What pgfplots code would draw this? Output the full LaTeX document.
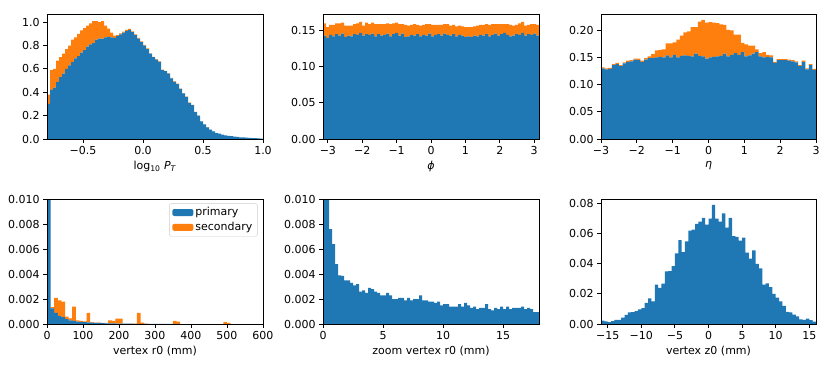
\documentclass[border=0pt]{standalone}
\usepackage{fontspec}
\setmainfont{DejaVu Sans}
\usepackage{pgfplots}
\usepackage{pgfplotstable}
\pgfplotsset{compat=1.18}

\definecolor{mblue}{HTML}{1F77B4}
\definecolor{morange}{HTML}{FF7F0E}

% log10 pT: bin centre, primary, secondary
\pgfplotstableread{
x p s
-0.7875 0.30 0.08
-0.7625 0.42 0.17
-0.7375 0.44 0.16
-0.7125 0.49 0.18
-0.6875 0.53 0.17
-0.6625 0.56 0.17
-0.6375 0.60 0.17
-0.6125 0.63 0.17
-0.5875 0.66 0.19
-0.5625 0.69 0.18
-0.5375 0.71 0.19
-0.5125 0.74 0.19
-0.4875 0.76 0.19
-0.4625 0.79 0.18
-0.4375 0.81 0.18
-0.4125 0.82 0.19
-0.3875 0.85 0.16
-0.3625 0.86 0.14
-0.3375 0.86 0.15
-0.3125 0.87 0.10
-0.2875 0.875 0.07
-0.2625 0.87 0.04
-0.2375 0.865 0.02
-0.2125 0.88 0.01
-0.1875 0.895 0.01
-0.1625 0.91 0.01
-0.1375 0.925 0.01
-0.1125 0.935 0.008
-0.0875 0.915 0.007
-0.0625 0.89 0.006
-0.0375 0.86 0.006
-0.0125 0.83 0.005
0.0125 0.80 0.005
0.0375 0.77 0.005
0.0625 0.73 0.004
0.0875 0.70 0.004
0.1125 0.68 0.004
0.1375 0.66 0.004
0.1625 0.59 0.003
0.1875 0.58 0.003
0.2125 0.56 0.003
0.2375 0.52 0.003
0.2625 0.49 0.003
0.2875 0.47 0.003
0.3125 0.43 0.002
0.3375 0.39 0.002
0.3625 0.36 0.002
0.3875 0.31 0.002
0.4125 0.29 0.002
0.4375 0.23 0.002
0.4625 0.20 0.001
0.4875 0.15 0.001
0.5125 0.125 0.001
0.5375 0.10 0.001
0.5625 0.08 0.001
0.5875 0.065 0.001
0.6125 0.05 0
0.6375 0.045 0
0.6625 0.037 0
0.6875 0.032 0
0.7125 0.027 0
0.7375 0.024 0
0.7625 0.020 0
0.7875 0.018 0
0.8125 0.015 0
0.8375 0.013 0
0.8625 0.011 0
0.8875 0.010 0
0.9125 0.008 0
0.9375 0.007 0
0.9625 0.005 0
0.9875 0.004 0
}\tabpt

% phi
\pgfplotstableread{
x p s
-3.0980 0.143 0.017
-3.0107 0.140 0.015
-2.9234 0.144 0.014
-2.8362 0.142 0.016
-2.7489 0.145 0.015
-2.6616 0.143 0.017
-2.5744 0.146 0.015
-2.4871 0.141 0.016
-2.3998 0.143 0.014
-2.3126 0.142 0.015
-2.2253 0.145 0.014
-2.1380 0.144 0.016
-2.0508 0.147 0.015
-1.9635 0.143 0.014
-1.8762 0.145 0.016
-1.7890 0.144 0.015
-1.7017 0.146 0.015
-1.6144 0.142 0.017
-1.5272 0.145 0.014
-1.4399 0.143 0.016
-1.3526 0.144 0.015
-1.2654 0.146 0.014
-1.1781 0.142 0.017
-1.0908 0.145 0.015
-1.0036 0.147 0.014
-0.9163 0.143 0.016
-0.8290 0.146 0.013
-0.7418 0.141 0.017
-0.6545 0.142 0.015
-0.5672 0.144 0.014
-0.4800 0.143 0.016
-0.3927 0.145 0.013
-0.3054 0.142 0.015
-0.2182 0.144 0.014
-0.1309 0.143 0.016
-0.0436 0.146 0.013
0.0436 0.142 0.016
0.1309 0.144 0.014
0.2182 0.145 0.013
0.3054 0.143 0.015
0.3927 0.146 0.013
0.4800 0.144 0.015
0.5672 0.143 0.014
0.6545 0.145 0.013
0.7418 0.142 0.014
0.8290 0.144 0.013
0.9163 0.143 0.013
1.0036 0.141 0.014
1.0908 0.142 0.013
1.1781 0.141 0.014
1.2654 0.143 0.013
1.3526 0.142 0.015
1.4399 0.144 0.014
1.5272 0.143 0.015
1.6144 0.145 0.014
1.7017 0.142 0.016
1.7890 0.144 0.015
1.8762 0.146 0.013
1.9635 0.143 0.016
2.0508 0.145 0.014
2.1380 0.147 0.012
2.2253 0.144 0.015
2.3126 0.142 0.016
2.3998 0.143 0.014
2.4871 0.145 0.013
2.5744 0.144 0.016
2.6616 0.147 0.015
2.7489 0.143 0.014
2.8362 0.145 0.013
2.9234 0.144 0.015
3.0107 0.146 0.013
3.0980 0.143 0.015
}\tabphi

% eta
\pgfplotstableread{
x p s
-2.95 0.130 0.002
-2.85 0.128 0.002
-2.75 0.129 0.002
-2.65 0.136 0.002
-2.55 0.138 0.002
-2.45 0.134 0.002
-2.35 0.139 0.002
-2.25 0.142 0.002
-2.15 0.143 0.002
-2.05 0.146 0.002
-1.95 0.145 0.003
-1.85 0.142 0.002
-1.75 0.146 0.003
-1.65 0.149 0.003
-1.55 0.149 0.007
-1.45 0.150 0.013
-1.35 0.151 0.013
-1.25 0.150 0.015
-1.15 0.154 0.022
-1.05 0.150 0.026
-0.95 0.155 0.023
-0.85 0.150 0.033
-0.75 0.153 0.037
-0.65 0.154 0.042
-0.55 0.153 0.045
-0.45 0.152 0.054
-0.35 0.157 0.049
-0.25 0.153 0.063
-0.15 0.152 0.067
-0.05 0.148 0.066
0.05 0.150 0.065
0.15 0.151 0.063
0.25 0.152 0.061
0.35 0.153 0.058
0.45 0.157 0.053
0.55 0.152 0.049
0.65 0.155 0.045
0.75 0.158 0.034
0.85 0.155 0.037
0.95 0.160 0.017
1.05 0.152 0.022
1.15 0.154 0.018
1.25 0.157 0.015
1.35 0.160 0.005
1.45 0.152 0.006
1.55 0.150 0.010
1.65 0.151 0.004
1.75 0.150 0.004
1.85 0.140 0.002
1.95 0.145 0.002
2.05 0.145 0.002
2.15 0.145 0.002
2.25 0.144 0.002
2.35 0.143 0.002
2.45 0.141 0.002
2.55 0.134 0.002
2.65 0.142 0.002
2.75 0.128 0.002
2.85 0.136 0.002
2.95 0.127 0.002
}\tabeta

% vertex r0
\pgfplotstableread{
x p s
5 0.05 0
15 0.00125 0.0001
25 0.0009 0.0012
35 0.00065 0.00125
45 0.00055 0.00125
55 0.0004 0.0002
65 0.0003 0.00015
75 0.00025 0.00115
85 0.0002 0.0001
95 0.00018 0.00007
105 0.00015 0.00007
115 0.00013 0.00077
125 0.00012 0.00003
135 0.0001 0.00002
145 0.00009 0.00002
155 0.00007 0.00002
165 0.00006 0.00003
175 0.00005 0.00025
185 0.00005 0.0002
195 0.00004 0.0004
205 0.00004 0.0004
215 0.00003 0.00001
225 0.00003 0.00001
235 0.00003 0.00001
245 0.00002 0.00001
255 0.00002 0.00088
265 0.00002 0.0001
275 0.00002 0.00001
285 0.00001 0
295 0.00001 0
305 0.00001 0
315 0.00001 0
325 0.00001 0
335 0.00001 0
345 0.00001 0
355 0.00001 0.00024
365 0.00001 0.00019
375 0 0
385 0 0
395 0 0
405 0 0
415 0 0
425 0 0
435 0 0
445 0 0
455 0 0
465 0 0
475 0 0
485 0 0
495 0 0.00015
505 0 0.0001
}\tabrz

% zoom vertex r0
\pgfplotstableread{
x p
0.125 0.05
0.375 0.015
0.625 0.0076
0.875 0.0064
1.125 0.0048
1.375 0.0039
1.625 0.00385
1.875 0.0035
2.125 0.0035
2.375 0.0033
2.625 0.0031
2.875 0.0032
3.125 0.0026
3.375 0.0027
3.625 0.0025
3.875 0.0029
4.125 0.0028
4.375 0.0026
4.625 0.0025
4.875 0.0023
5.125 0.0023
5.375 0.0025
5.625 0.0023
5.875 0.0020
6.125 0.0020
6.375 0.0021
6.625 0.0021
6.875 0.0019
7.125 0.0021
7.375 0.0019
7.625 0.0020
7.875 0.0020
8.125 0.0023
8.375 0.0019
8.625 0.0019
8.875 0.0018
9.125 0.0018
9.375 0.0017
9.625 0.0018
9.875 0.0015
10.125 0.0016
10.375 0.0016
10.625 0.0014
10.875 0.0014
11.125 0.0014
11.375 0.0016
11.625 0.0014
11.875 0.0017
12.125 0.0015
12.375 0.0013
12.625 0.0014
12.875 0.0012
13.125 0.0013
13.375 0.0013
13.625 0.0016
13.875 0.0012
14.125 0.0011
14.375 0.0013
14.625 0.0012
14.875 0.0014
15.125 0.0012
15.375 0.0014
15.625 0.0012
15.875 0.0013
16.125 0.0013
16.375 0.0013
16.625 0.0014
16.875 0.0012
17.125 0.0013
17.375 0.0012
17.625 0.00095
17.875 0.00095
}\tabzoom

% vertex z0
\pgfplotstableread{
x p
-15.75 0.0022
-15.25 0.0017
-14.75 0.0013
-14.25 0.0019
-13.75 0.0027
-13.25 0.0028
-12.75 0.0042
-12.25 0.0060
-11.75 0.0078
-11.25 0.0079
-10.75 0.0086
-10.25 0.0098
-9.75 0.0105
-9.25 0.0140
-8.75 0.0170
-8.25 0.0150
-7.75 0.0262
-7.25 0.0240
-6.75 0.0268
-6.25 0.0350
-5.75 0.0352
-5.25 0.0385
-4.75 0.0470
-4.25 0.0558
-3.75 0.0478
-3.25 0.0550
-2.75 0.0620
-2.25 0.0628
-1.75 0.0665
-1.25 0.0680
-0.75 0.0705
-0.25 0.0660
0.25 0.0700
0.75 0.0792
1.25 0.0700
1.75 0.0680
2.25 0.0735
2.75 0.0640
3.25 0.0705
3.75 0.0585
4.25 0.0580
4.75 0.0555
5.25 0.0575
5.75 0.0475
6.25 0.0435
6.75 0.0490
7.25 0.0400
7.75 0.0370
8.25 0.0262
8.75 0.0270
9.25 0.0245
9.75 0.0200
10.25 0.0175
10.75 0.0150
11.25 0.0120
11.75 0.0080
12.25 0.0078
12.75 0.0062
13.25 0.0050
13.75 0.0030
14.25 0.0028
14.75 0.0035
15.25 0.0025
15.75 0.0015
}\tabzz

\pgfplotsset{
  hist/.style={
    scale only axis,
    width=216pt, height=125pt,
    anchor=south west,
    axis line style={line width=0.9pt},
    every tick/.style={line width=0.9pt, black},
    major tick length=3.9pt,
    tick align=outside,
    tick pos=left,
    enlargelimits=false,
    scaled ticks=false,
    axis on top,
    /pgf/number format/assume math mode=true,
    tick label style={font=\fontsize{11}{13}\selectfont},
    label style={font=\fontsize{11}{13}\selectfont},
    ymin=0,
  },
  yfix/.style={yticklabel style={/pgf/number format/.cd, fixed, fixed zerofill, precision=#1}},
}

\begin{document}
\begin{tikzpicture}
\useasboundingbox (0pt,0pt) rectangle (830pt,368pt);

% log10 pT
\begin{axis}[hist, at={(47pt,229pt)},
    ybar stacked, bar width=0.025,
    xmin=-0.8, xmax=1.0, ymax=1.07,
    xtick={-0.5,0,0.5,1}, xticklabels={−0.5,0.0,0.5,1.0},
    ytick={0,0.2,0.4,0.6,0.8,1.0}, yfix=1,
    xlabel={log\textsubscript{10} \textit{P}\textsubscript{\textit{T}}}]
\addplot[fill=mblue, draw=none] table[x=x, y=p] {\tabpt};
\addplot[fill=morange, draw=none] table[x=x, y=s] {\tabpt};
\end{axis}

% phi
\begin{axis}[hist, at={(323pt,229pt)},
    ybar stacked, bar width=0.08727,
    xmin=-3.14159, xmax=3.14159, ymax=0.173,
    xtick={-3,-2,-1,0,1,2,3}, xticklabels={−3,−2,−1,0,1,2,3},
    ytick={0,0.05,0.10,0.15}, yfix=2,
    xlabel={\textit{ϕ}}]
\addplot[fill=mblue, draw=none] table[x=x, y=p] {\tabphi};
\addplot[fill=morange, draw=none] table[x=x, y=s] {\tabphi};
\end{axis}

% eta
\begin{axis}[hist, at={(601pt,229pt)}, width=215pt,
    ybar stacked, bar width=0.1,
    xmin=-3, xmax=3, ymax=0.23,
    xtick={-3,-2,-1,0,1,2,3}, xticklabels={−3,−2,−1,0,1,2,3},
    ytick={0,0.05,0.10,0.15,0.20}, yfix=2,
    xlabel={\textit{η}}]
\addplot[fill=mblue, draw=none] table[x=x, y=p] {\tabeta};
\addplot[fill=morange, draw=none] table[x=x, y=s] {\tabeta};
\end{axis}

% vertex r0
\begin{axis}[hist, at={(47pt,44pt)},
    ybar stacked, bar width=10,
    xmin=0, xmax=600, ymax=0.010,
    xtick={0,100,200,300,400,500,600},
    ytick={0,0.002,0.004,0.006,0.008,0.010}, yfix=3,
    xlabel={vertex r0 (mm)},
    legend image code/.code={\fill[#1, draw=none] (0pt,-3.5pt) rectangle (21pt,3.5pt);},
    legend cell align=left,
    legend style={at={(0.975,0.965)}, anchor=north east, draw=black!20,
      rounded corners=2pt, font=\fontsize{11}{13}\selectfont,
      inner xsep=3pt, inner ysep=2pt, row sep=1pt}]
\addplot[fill=mblue, draw=none] table[x=x, y=p] {\tabrz};
\addplot[fill=morange, draw=none] table[x=x, y=s] {\tabrz};
\legend{primary, secondary}
\end{axis}

% zoom vertex r0
\begin{axis}[hist, at={(323pt,44pt)},
    ybar, bar width=0.25, bar shift=0pt,
    xmin=0, xmax=18, ymax=0.010,
    xtick={0,5,10,15},
    ytick={0,0.002,0.004,0.006,0.008,0.010}, yfix=3,
    xlabel={zoom vertex r0 (mm)}]
\addplot[fill=mblue, draw=none] table[x=x, y=p] {\tabzoom};
\end{axis}

% vertex z0
\begin{axis}[hist, at={(601pt,44pt)}, width=215pt,
    ybar, bar width=0.5, bar shift=0pt,
    xmin=-16, xmax=16, ymax=0.0831,
    xtick={-15,-10,-5,0,5,10,15}, xticklabels={−15,−10,−5,0,5,10,15},
    ytick={0,0.02,0.04,0.06,0.08}, yfix=2,
    xlabel={vertex z0 (mm)}]
\addplot[fill=mblue, draw=none] table[x=x, y=p] {\tabzz};
\end{axis}
\end{tikzpicture}
\end{document}
